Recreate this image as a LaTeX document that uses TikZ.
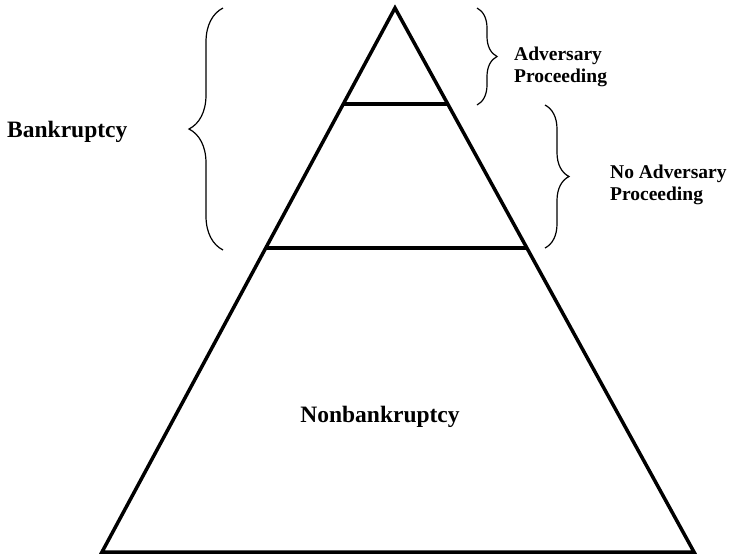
\documentclass[tikz,border=0pt]{standalone}
\usepackage{fontspec}
\setmainfont{Liberation Serif}
\usetikzlibrary{calc}
\usetikzlibrary{decorations.pathreplacing}

\begin{document}
\begin{tikzpicture}[x=1pt,y=-1pt]
	\useasboundingbox (0,0) rectangle (729,558);
	\coordinate (top) at (395,8);
	\coordinate (bl) at (102,552);
	\coordinate (br) at (694,552);
	\draw[line width=3.5pt, line join=miter] (top) -- (bl) -- (br) -- cycle;
	\foreach \t in {0.1765,0.441}{
		\draw[line width=3.5pt] ($(top)!\t!(bl)$) -- ($(top)!\t!(br)$);
	}
	% braces
	\draw[line width=1.2pt, decorate, decoration={brace, amplitude=34pt}] (223,250) -- (223,8);
	\draw[line width=1.2pt, decorate, decoration={brace, amplitude=20pt}] (477,8) -- (477,105);
	\draw[line width=1.2pt, decorate, decoration={brace, amplitude=24pt}] (545,105) -- (545,248);
	% labels
	\node[anchor=base west, inner sep=0pt, font=\bfseries\fontsize{23.5}{26}\selectfont] (bank) at (7,137) {Bankruptcy};
	\node[anchor=base, inner sep=0pt, font=\bfseries\fontsize{23.5}{26}\selectfont] (nonbank) at (380,422) {Nonbankruptcy};
	\node[anchor=west, inner sep=0pt, align=left, font=\bfseries\fontsize{19.5}{22}\selectfont] (adv) at (514,67) {Adversary\\Proceeding};
	\node[anchor=west, inner sep=0pt, align=left, font=\bfseries\fontsize{19.5}{22}\selectfont] (noadv) at (610,184.5) {No Adversary\\Proceeding};
\end{tikzpicture}
\end{document}
